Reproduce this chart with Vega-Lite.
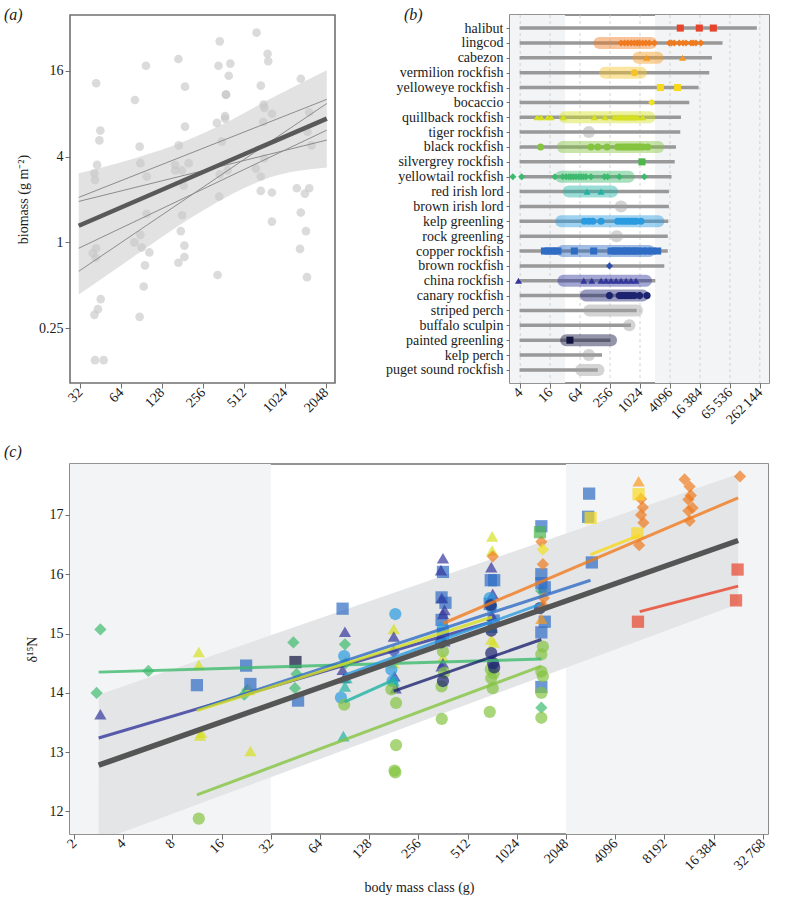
{
  "$schema": "https://vega.github.io/schema/vega-lite/v6.json",
  "background": "white",
  "padding": {"left": 3, "top": 5, "right": 10, "bottom": 2},
  "spacing": 15,
  "config": {
    "font": "Liberation Serif",
    "view": {"stroke": "#707070", "strokeWidth": 1.6},
    "axis": {"domain": false, "grid": false, "tickColor": "#707070", "tickSize": 5, "tickWidth": 1, "labelFont": "Liberation Serif", "labelFontSize": 14, "labelColor": "#1a1a1a", "titleFont": "Liberation Serif", "titleFontSize": 14, "titleFontWeight": "normal", "titleColor": "#1a1a1a"},
    "title": {"font": "Liberation Serif", "fontSize": 16, "fontStyle": "italic", "fontWeight": "normal", "anchor": "start", "frame": "group", "baseline": "alphabetic", "offset": 0, "color": "#1a1a1a"},
    "legend": {"disable": true}
  },
  "datasets": {
    "a_band": [
      {"mass": 31.3, "lo": 0.43, "hi": 3.06},
      {"mass": 80, "lo": 0.8, "hi": 3.89},
      {"mass": 198, "lo": 1.44, "hi": 5.24},
      {"mass": 388, "lo": 2.1, "hi": 7.03},
      {"mass": 766, "lo": 2.82, "hi": 9.98},
      {"mass": 2080, "lo": 3.35, "hi": 16.2}
    ],
    "a_pts": [
      {"mass": 42, "biomass": 13.1}, {"mass": 42.7, "biomass": 3.5}, {"mass": 40.8, "biomass": 3.06}, {"mass": 41.2, "biomass": 2.75}, {"mass": 45.1, "biomass": 6.1}, {"mass": 44.4, "biomass": 5.2}, {"mass": 42, "biomass": 0.91}, {"mass": 41.8, "biomass": 0.78}, {"mass": 39.7, "biomass": 0.84}, {"mass": 45.4, "biomass": 0.4}, {"mass": 43.3, "biomass": 0.34}, {"mass": 40.8, "biomass": 0.31}, {"mass": 41.2, "biomass": 0.149}, {"mass": 47.7, "biomass": 0.149},
      {"mass": 81, "biomass": 10.0}, {"mass": 97.6, "biomass": 17.4}, {"mass": 87.7, "biomass": 4.7}, {"mass": 88.8, "biomass": 3.6}, {"mass": 98.8, "biomass": 2.9}, {"mass": 98.8, "biomass": 1.59}, {"mass": 88.8, "biomass": 1.13}, {"mass": 80.2, "biomass": 1.0}, {"mass": 90.8, "biomass": 0.92}, {"mass": 103.4, "biomass": 0.85}, {"mass": 96, "biomass": 0.69}, {"mass": 93.9, "biomass": 0.49}, {"mass": 87.7, "biomass": 0.3},
      {"mass": 169, "biomass": 19.4}, {"mass": 189, "biomass": 12.4}, {"mass": 189, "biomass": 6.5}, {"mass": 170, "biomass": 4.8}, {"mass": 160, "biomass": 3.5}, {"mass": 179, "biomass": 3.2}, {"mass": 160, "biomass": 3.2}, {"mass": 201, "biomass": 3.6}, {"mass": 185, "biomass": 2.5}, {"mass": 180, "biomass": 1.55}, {"mass": 176, "biomass": 1.2}, {"mass": 187, "biomass": 0.95}, {"mass": 187, "biomass": 0.79}, {"mass": 169, "biomass": 0.72},
      {"mass": 340, "biomass": 25.8}, {"mass": 333, "biomass": 17.4}, {"mass": 407, "biomass": 18.0}, {"mass": 396, "biomass": 14.8}, {"mass": 378, "biomass": 10.9}, {"mass": 378, "biomass": 10.9}, {"mass": 372, "biomass": 7.4}, {"mass": 372, "biomass": 7.7}, {"mass": 324, "biomass": 6.9}, {"mass": 352, "biomass": 5.1}, {"mass": 388, "biomass": 3.2}, {"mass": 340, "biomass": 3.0}, {"mass": 337, "biomass": 2.1}, {"mass": 328, "biomass": 0.59},
      {"mass": 634, "biomass": 29.7}, {"mass": 764, "biomass": 21.1}, {"mass": 772, "biomass": 18.7}, {"mass": 681, "biomass": 12.6}, {"mass": 714, "biomass": 9.3}, {"mass": 722, "biomass": 8.8}, {"mass": 822, "biomass": 8.0}, {"mass": 710, "biomass": 7.0}, {"mass": 722, "biomass": 3.9}, {"mass": 626, "biomass": 3.3}, {"mass": 681, "biomass": 2.9}, {"mass": 681, "biomass": 2.3}, {"mass": 822, "biomass": 2.24}, {"mass": 822, "biomass": 1.4},
      {"mass": 1340, "biomass": 14.1}, {"mass": 1545, "biomass": 8.2}, {"mass": 1500, "biomass": 6.0}, {"mass": 1608, "biomass": 4.8}, {"mass": 1252, "biomass": 2.4}, {"mass": 1436, "biomass": 2.2}, {"mass": 1545, "biomass": 2.4}, {"mass": 1340, "biomass": 1.62}, {"mass": 1462, "biomass": 1.2}, {"mass": 1323, "biomass": 0.9}, {"mass": 1488, "biomass": 0.57}
    ],
    "a_lines": [
      {"site": "s1", "mass": 31.3, "biomass": 2.07}, {"site": "s1", "mass": 2080, "biomass": 10.1},
      {"site": "s2", "mass": 31.3, "biomass": 1.94}, {"site": "s2", "mass": 2080, "biomass": 5.23},
      {"site": "s3", "mass": 31.3, "biomass": 0.91}, {"site": "s3", "mass": 2080, "biomass": 6.14},
      {"site": "s4", "mass": 31.3, "biomass": 0.627}, {"site": "s4", "mass": 2080, "biomass": 9.45}
    ],
    "a_fit": [{"mass": 31.3, "biomass": 1.31}, {"mass": 2080, "biomass": 7.4}],
    "bg_b": [{"lo": 1, "hi": 32}, {"lo": 2048, "hi": 1000000}],
    "bg_c": [{"lo": 1, "hi": 32}, {"lo": 2048, "hi": 100000}],
    "b_grid": [{"v": 4}, {"v": 16}, {"v": 64}, {"v": 256}, {"v": 1024}, {"v": 4096}, {"v": 16384}, {"v": 65536}, {"v": 262144}],
    "b_range": [
      {"species": "halibut", "start": 3.9, "end": 228000},
      {"species": "lingcod", "start": 3.9, "end": 46600},
      {"species": "cabezon", "start": 3.9, "end": 28500},
      {"species": "vermilion rockfish", "start": 3.9, "end": 25200},
      {"species": "yelloweye rockfish", "start": 3.9, "end": 15400},
      {"species": "bocaccio", "start": 3.9, "end": 10000},
      {"species": "quillback rockfish", "start": 3.9, "end": 6800},
      {"species": "tiger rockfish", "start": 3.9, "end": 6600},
      {"species": "black rockfish", "start": 3.9, "end": 5400},
      {"species": "silvergrey rockfish", "start": 3.9, "end": 5100},
      {"species": "yellowtail rockfish", "start": 3.9, "end": 4400},
      {"species": "red irish lord", "start": 3.9, "end": 3900},
      {"species": "brown irish lord", "start": 3.9, "end": 3900},
      {"species": "kelp greenling", "start": 3.9, "end": 3800},
      {"species": "rock greenling", "start": 3.9, "end": 3700},
      {"species": "copper rockfish", "start": 3.9, "end": 3700},
      {"species": "brown rockfish", "start": 3.9, "end": 3150},
      {"species": "china rockfish", "start": 3.9, "end": 2080},
      {"species": "canary rockfish", "start": 3.9, "end": 1570},
      {"species": "striped perch", "start": 3.9, "end": 880},
      {"species": "buffalo sculpin", "start": 3.9, "end": 675},
      {"species": "painted greenling", "start": 3.9, "end": 260},
      {"species": "kelp perch", "start": 3.9, "end": 177},
      {"species": "puget sound rockfish", "start": 3.9, "end": 145}
    ],
    "b_band": [
      {"species": "lingcod", "lo": 156, "hi": 1700},
      {"species": "cabezon", "lo": 950, "hi": 2320},
      {"species": "vermilion rockfish", "lo": 203, "hi": 1070},
      {"species": "quillback rockfish", "lo": 32, "hi": 1577},
      {"species": "tiger rockfish", "lo": 95, "hi": 97},
      {"species": "black rockfish", "lo": 28.7, "hi": 2390},
      {"species": "yellowtail rockfish", "lo": 26.6, "hi": 605},
      {"species": "red irish lord", "lo": 37.9, "hi": 280},
      {"species": "brown irish lord", "lo": 420, "hi": 430},
      {"species": "kelp greenling", "lo": 26.6, "hi": 2390},
      {"species": "rock greenling", "lo": 344, "hi": 352},
      {"species": "copper rockfish", "lo": 28.7, "hi": 1577},
      {"species": "china rockfish", "lo": 29.6, "hi": 1350},
      {"species": "canary rockfish", "lo": 84, "hi": 1160},
      {"species": "striped perch", "lo": 98, "hi": 890},
      {"species": "buffalo sculpin", "lo": 620, "hi": 630},
      {"species": "painted greenling", "lo": 33.6, "hi": 268},
      {"species": "kelp perch", "lo": 95, "hi": 97},
      {"species": "puget sound rockfish", "lo": 67, "hi": 150}
    ],
    "b_pts": [
      {"species": "halibut", "mass": 6600}, {"species": "halibut", "mass": 15900}, {"species": "halibut", "mass": 30400},
      {"species": "lingcod", "mass": 425}, {"species": "lingcod", "mass": 500}, {"species": "lingcod", "mass": 580}, {"species": "lingcod", "mass": 680}, {"species": "lingcod", "mass": 790}, {"species": "lingcod", "mass": 900}, {"species": "lingcod", "mass": 1000}, {"species": "lingcod", "mass": 1160}, {"species": "lingcod", "mass": 1340}, {"species": "lingcod", "mass": 1570}, {"species": "lingcod", "mass": 1990}, {"species": "lingcod", "mass": 3980}, {"species": "lingcod", "mass": 4400}, {"species": "lingcod", "mass": 5000}, {"species": "lingcod", "mass": 6300}, {"species": "lingcod", "mass": 7500}, {"species": "lingcod", "mass": 8600}, {"species": "lingcod", "mass": 10800}, {"species": "lingcod", "mass": 12000}, {"species": "lingcod", "mass": 13600}, {"species": "lingcod", "mass": 17200},
      {"species": "cabezon", "mass": 1390}, {"species": "cabezon", "mass": 7350},
      {"species": "vermilion rockfish", "mass": 790},
      {"species": "yelloweye rockfish", "mass": 2630}, {"species": "yelloweye rockfish", "mass": 5830},
      {"species": "bocaccio", "mass": 1760},
      {"species": "quillback rockfish", "mass": 8.8}, {"species": "quillback rockfish", "mass": 10.6}, {"species": "quillback rockfish", "mass": 14.3}, {"species": "quillback rockfish", "mass": 16.8}, {"species": "quillback rockfish", "mass": 29.6}, {"species": "quillback rockfish", "mass": 124}, {"species": "quillback rockfish", "mass": 203}, {"species": "quillback rockfish", "mass": 313}, {"species": "quillback rockfish", "mass": 365}, {"species": "quillback rockfish", "mass": 410}, {"species": "quillback rockfish", "mass": 459}, {"species": "quillback rockfish", "mass": 520}, {"species": "quillback rockfish", "mass": 580}, {"species": "quillback rockfish", "mass": 650}, {"species": "quillback rockfish", "mass": 729}, {"species": "quillback rockfish", "mass": 820}, {"species": "quillback rockfish", "mass": 917}, {"species": "quillback rockfish", "mass": 1160},
      {"species": "black rockfish", "mass": 10.3}, {"species": "black rockfish", "mass": 106}, {"species": "black rockfish", "mass": 145}, {"species": "black rockfish", "mass": 223}, {"species": "black rockfish", "mass": 365}, {"species": "black rockfish", "mass": 410}, {"species": "black rockfish", "mass": 459}, {"species": "black rockfish", "mass": 520}, {"species": "black rockfish", "mass": 580}, {"species": "black rockfish", "mass": 650}, {"species": "black rockfish", "mass": 729}, {"species": "black rockfish", "mass": 820}, {"species": "black rockfish", "mass": 917}, {"species": "black rockfish", "mass": 1030}, {"species": "black rockfish", "mass": 1160}, {"species": "black rockfish", "mass": 1460},
      {"species": "silvergrey rockfish", "mass": 1120},
      {"species": "yellowtail rockfish", "mass": 2.85}, {"species": "yellowtail rockfish", "mass": 4.3}, {"species": "yellowtail rockfish", "mass": 20}, {"species": "yellowtail rockfish", "mass": 28.7}, {"species": "yellowtail rockfish", "mass": 33.6}, {"species": "yellowtail rockfish", "mass": 38}, {"species": "yellowtail rockfish", "mass": 42}, {"species": "yellowtail rockfish", "mass": 47}, {"species": "yellowtail rockfish", "mass": 53}, {"species": "yellowtail rockfish", "mass": 60}, {"species": "yellowtail rockfish", "mass": 67}, {"species": "yellowtail rockfish", "mass": 75}, {"species": "yellowtail rockfish", "mass": 84}, {"species": "yellowtail rockfish", "mass": 106}, {"species": "yellowtail rockfish", "mass": 197}, {"species": "yellowtail rockfish", "mass": 229}, {"species": "yellowtail rockfish", "mass": 394}, {"species": "yellowtail rockfish", "mass": 1250},
      {"species": "red irish lord", "mass": 88}, {"species": "red irish lord", "mass": 169},
      {"species": "kelp greenling", "mass": 78}, {"species": "kelp greenling", "mass": 96}, {"species": "kelp greenling", "mass": 115}, {"species": "kelp greenling", "mass": 169}, {"species": "kelp greenling", "mass": 365}, {"species": "kelp greenling", "mass": 430}, {"species": "kelp greenling", "mass": 498}, {"species": "kelp greenling", "mass": 580}, {"species": "kelp greenling", "mass": 675}, {"species": "kelp greenling", "mass": 760}, {"species": "kelp greenling", "mass": 850}, {"species": "kelp greenling", "mass": 1070},
      {"species": "copper rockfish", "mass": 12.3}, {"species": "copper rockfish", "mass": 14.5}, {"species": "copper rockfish", "mass": 17}, {"species": "copper rockfish", "mass": 20}, {"species": "copper rockfish", "mass": 23}, {"species": "copper rockfish", "mass": 49}, {"species": "copper rockfish", "mass": 120}, {"species": "copper rockfish", "mass": 268}, {"species": "copper rockfish", "mass": 320}, {"species": "copper rockfish", "mass": 365}, {"species": "copper rockfish", "mass": 440}, {"species": "copper rockfish", "mass": 520}, {"species": "copper rockfish", "mass": 580}, {"species": "copper rockfish", "mass": 700}, {"species": "copper rockfish", "mass": 820}, {"species": "copper rockfish", "mass": 917}, {"species": "copper rockfish", "mass": 1160}, {"species": "copper rockfish", "mass": 1460}, {"species": "copper rockfish", "mass": 1800}, {"species": "copper rockfish", "mass": 2320},
      {"species": "brown rockfish", "mass": 249},
      {"species": "china rockfish", "mass": 3.7}, {"species": "china rockfish", "mass": 76}, {"species": "china rockfish", "mass": 110}, {"species": "china rockfish", "mass": 169}, {"species": "china rockfish", "mass": 213}, {"species": "china rockfish", "mass": 268}, {"species": "china rockfish", "mass": 338}, {"species": "china rockfish", "mass": 425}, {"species": "china rockfish", "mass": 537}, {"species": "china rockfish", "mass": 675}, {"species": "china rockfish", "mass": 850},
      {"species": "canary rockfish", "mass": 249}, {"species": "canary rockfish", "mass": 394}, {"species": "canary rockfish", "mass": 440}, {"species": "canary rockfish", "mass": 498}, {"species": "canary rockfish", "mass": 560}, {"species": "canary rockfish", "mass": 625}, {"species": "canary rockfish", "mass": 700}, {"species": "canary rockfish", "mass": 790}, {"species": "canary rockfish", "mass": 1000}, {"species": "canary rockfish", "mass": 1420},
      {"species": "painted greenling", "mass": 40}
    ],
    "c_band": [{"mass": 2.83, "lo": 11.5, "hi": 13.97}, {"mass": 23170, "lo": 15.5, "hi": 17.69}],
    "c_fit": [{"mass": 2.83, "d15n": 12.78}, {"mass": 23170, "d15n": 16.57}],
    "c_lines": [
      {"species": "china rockfish", "mass": 2.83, "d15n": 13.24}, {"species": "china rockfish", "mass": 724, "d15n": 15.2},
      {"species": "yellowtail rockfish", "mass": 2.83, "d15n": 14.35}, {"species": "yellowtail rockfish", "mass": 1448, "d15n": 14.57},
      {"species": "copper rockfish", "mass": 11.3, "d15n": 13.72}, {"species": "copper rockfish", "mass": 2896, "d15n": 15.9},
      {"species": "quillback rockfish", "mass": 11.3, "d15n": 13.7}, {"species": "quillback rockfish", "mass": 724, "d15n": 15.28},
      {"species": "black rockfish", "mass": 11.3, "d15n": 12.28}, {"species": "black rockfish", "mass": 1448, "d15n": 14.45},
      {"species": "kelp greenling", "mass": 90.5, "d15n": 14.3}, {"species": "kelp greenling", "mass": 1448, "d15n": 15.5},
      {"species": "red irish lord", "mass": 90.5, "d15n": 13.85}, {"species": "red irish lord", "mass": 181, "d15n": 14.22},
      {"species": "canary rockfish", "mass": 181, "d15n": 14.03}, {"species": "canary rockfish", "mass": 1448, "d15n": 14.9},
      {"species": "lingcod", "mass": 362, "d15n": 15.17}, {"species": "lingcod", "mass": 23170, "d15n": 17.29},
      {"species": "yelloweye rockfish", "mass": 2896, "d15n": 16.33}, {"species": "yelloweye rockfish", "mass": 5793, "d15n": 16.66},
      {"species": "halibut", "mass": 5793, "d15n": 15.37}, {"species": "halibut", "mass": 23170, "d15n": 15.8}
    ],
    "c_pts": [
      {"species": "yellowtail rockfish", "mass": 2.9, "d15n": 15.07}, {"species": "yellowtail rockfish", "mass": 2.75, "d15n": 14.0}, {"species": "yellowtail rockfish", "mass": 5.7, "d15n": 14.37}, {"species": "yellowtail rockfish", "mass": 22, "d15n": 13.97}, {"species": "yellowtail rockfish", "mass": 23, "d15n": 14.05}, {"species": "yellowtail rockfish", "mass": 44, "d15n": 14.85}, {"species": "yellowtail rockfish", "mass": 46, "d15n": 14.32}, {"species": "yellowtail rockfish", "mass": 45, "d15n": 14.08}, {"species": "yellowtail rockfish", "mass": 91, "d15n": 14.82}, {"species": "yellowtail rockfish", "mass": 92, "d15n": 14.5}, {"species": "yellowtail rockfish", "mass": 1448, "d15n": 15.72}, {"species": "yellowtail rockfish", "mass": 1448, "d15n": 13.75},
      {"species": "quillback rockfish", "mass": 11.6, "d15n": 14.69}, {"species": "quillback rockfish", "mass": 11.6, "d15n": 14.47}, {"species": "quillback rockfish", "mass": 12, "d15n": 13.33}, {"species": "quillback rockfish", "mass": 11.8, "d15n": 13.28}, {"species": "quillback rockfish", "mass": 24, "d15n": 13.02}, {"species": "quillback rockfish", "mass": 23.5, "d15n": 14.05}, {"species": "quillback rockfish", "mass": 181, "d15n": 15.08}, {"species": "quillback rockfish", "mass": 181, "d15n": 14.5}, {"species": "quillback rockfish", "mass": 176, "d15n": 14.55}, {"species": "quillback rockfish", "mass": 724, "d15n": 16.64}, {"species": "quillback rockfish", "mass": 724, "d15n": 16.4}, {"species": "quillback rockfish", "mass": 715, "d15n": 14.9}, {"species": "quillback rockfish", "mass": 740, "d15n": 14.85}, {"species": "quillback rockfish", "mass": 362, "d15n": 14.6},
      {"species": "copper rockfish", "mass": 11.3, "d15n": 14.13}, {"species": "copper rockfish", "mass": 22.6, "d15n": 14.46}, {"species": "copper rockfish", "mass": 24, "d15n": 14.15}, {"species": "copper rockfish", "mass": 47, "d15n": 13.87}, {"species": "copper rockfish", "mass": 88, "d15n": 15.42}, {"species": "copper rockfish", "mass": 362, "d15n": 16.04}, {"species": "copper rockfish", "mass": 355, "d15n": 15.61}, {"species": "copper rockfish", "mass": 375, "d15n": 15.52}, {"species": "copper rockfish", "mass": 355, "d15n": 15.23}, {"species": "copper rockfish", "mass": 362, "d15n": 15.0}, {"species": "copper rockfish", "mass": 710, "d15n": 15.9}, {"species": "copper rockfish", "mass": 745, "d15n": 15.9}, {"species": "copper rockfish", "mass": 740, "d15n": 15.22}, {"species": "copper rockfish", "mass": 700, "d15n": 15.5}, {"species": "copper rockfish", "mass": 1448, "d15n": 16.81}, {"species": "copper rockfish", "mass": 1448, "d15n": 16.0}, {"species": "copper rockfish", "mass": 1448, "d15n": 15.85}, {"species": "copper rockfish", "mass": 1520, "d15n": 15.78}, {"species": "copper rockfish", "mass": 1520, "d15n": 15.2}, {"species": "copper rockfish", "mass": 1448, "d15n": 15.02}, {"species": "copper rockfish", "mass": 1448, "d15n": 14.1}, {"species": "copper rockfish", "mass": 2840, "d15n": 17.36}, {"species": "copper rockfish", "mass": 2800, "d15n": 16.97}, {"species": "copper rockfish", "mass": 2950, "d15n": 16.2},
      {"species": "painted greenling", "mass": 45.3, "d15n": 14.52},
      {"species": "china rockfish", "mass": 2.9, "d15n": 13.64}, {"species": "china rockfish", "mass": 91, "d15n": 15.03}, {"species": "china rockfish", "mass": 88, "d15n": 14.39}, {"species": "china rockfish", "mass": 90, "d15n": 14.25}, {"species": "china rockfish", "mass": 181, "d15n": 14.95}, {"species": "china rockfish", "mass": 186, "d15n": 14.08}, {"species": "china rockfish", "mass": 183, "d15n": 14.28}, {"species": "china rockfish", "mass": 362, "d15n": 16.27}, {"species": "china rockfish", "mass": 352, "d15n": 16.07}, {"species": "china rockfish", "mass": 356, "d15n": 15.6}, {"species": "china rockfish", "mass": 370, "d15n": 15.4}, {"species": "china rockfish", "mass": 362, "d15n": 15.33}, {"species": "china rockfish", "mass": 362, "d15n": 14.5}, {"species": "china rockfish", "mass": 355, "d15n": 14.45}, {"species": "china rockfish", "mass": 370, "d15n": 14.87}, {"species": "china rockfish", "mass": 715, "d15n": 16.12}, {"species": "china rockfish", "mass": 730, "d15n": 15.67}, {"species": "china rockfish", "mass": 724, "d15n": 15.3},
      {"species": "kelp greenling", "mass": 90, "d15n": 14.62}, {"species": "kelp greenling", "mass": 86, "d15n": 13.92}, {"species": "kelp greenling", "mass": 185, "d15n": 15.33}, {"species": "kelp greenling", "mass": 175, "d15n": 14.39}, {"species": "kelp greenling", "mass": 178, "d15n": 14.2}, {"species": "kelp greenling", "mass": 715, "d15n": 15.45}, {"species": "kelp greenling", "mass": 700, "d15n": 15.6}, {"species": "kelp greenling", "mass": 362, "d15n": 15.1},
      {"species": "red irish lord", "mass": 91, "d15n": 14.11}, {"species": "red irish lord", "mass": 89, "d15n": 13.27}, {"species": "red irish lord", "mass": 93, "d15n": 14.25}, {"species": "red irish lord", "mass": 181, "d15n": 14.2}, {"species": "red irish lord", "mass": 724, "d15n": 15.1},
      {"species": "black rockfish", "mass": 11.6, "d15n": 11.88}, {"species": "black rockfish", "mass": 90, "d15n": 13.8}, {"species": "black rockfish", "mass": 175, "d15n": 14.06}, {"species": "black rockfish", "mass": 187, "d15n": 13.83}, {"species": "black rockfish", "mass": 187, "d15n": 13.12}, {"species": "black rockfish", "mass": 183, "d15n": 12.69}, {"species": "black rockfish", "mass": 185, "d15n": 12.66}, {"species": "black rockfish", "mass": 362, "d15n": 14.7}, {"species": "black rockfish", "mass": 368, "d15n": 14.34}, {"species": "black rockfish", "mass": 355, "d15n": 14.11}, {"species": "black rockfish", "mass": 356, "d15n": 13.56}, {"species": "black rockfish", "mass": 710, "d15n": 14.4}, {"species": "black rockfish", "mass": 740, "d15n": 14.33}, {"species": "black rockfish", "mass": 715, "d15n": 14.25}, {"species": "black rockfish", "mass": 730, "d15n": 14.08}, {"species": "black rockfish", "mass": 700, "d15n": 13.68}, {"species": "black rockfish", "mass": 1480, "d15n": 14.78}, {"species": "black rockfish", "mass": 1448, "d15n": 14.65}, {"species": "black rockfish", "mass": 1448, "d15n": 14.36}, {"species": "black rockfish", "mass": 1480, "d15n": 14.28}, {"species": "black rockfish", "mass": 1448, "d15n": 13.58}, {"species": "black rockfish", "mass": 1448, "d15n": 14.0},
      {"species": "canary rockfish", "mass": 362, "d15n": 14.2}, {"species": "canary rockfish", "mass": 352, "d15n": 14.85}, {"species": "canary rockfish", "mass": 715, "d15n": 14.67}, {"species": "canary rockfish", "mass": 735, "d15n": 14.5}, {"species": "canary rockfish", "mass": 715, "d15n": 15.05}, {"species": "canary rockfish", "mass": 745, "d15n": 14.43}, {"species": "canary rockfish", "mass": 710, "d15n": 15.48}, {"species": "canary rockfish", "mass": 1420, "d15n": 15.43},
      {"species": "lingcod", "mass": 730, "d15n": 16.3}, {"species": "lingcod", "mass": 1448, "d15n": 16.55}, {"species": "lingcod", "mass": 1480, "d15n": 16.17}, {"species": "lingcod", "mass": 1480, "d15n": 15.47}, {"species": "lingcod", "mass": 1500, "d15n": 15.6}, {"species": "lingcod", "mass": 5900, "d15n": 17.27}, {"species": "lingcod", "mass": 6050, "d15n": 17.13}, {"species": "lingcod", "mass": 5900, "d15n": 17.0}, {"species": "lingcod", "mass": 6100, "d15n": 16.87}, {"species": "lingcod", "mass": 5750, "d15n": 16.49}, {"species": "lingcod", "mass": 10900, "d15n": 17.6}, {"species": "lingcod", "mass": 11700, "d15n": 17.48}, {"species": "lingcod", "mass": 11900, "d15n": 17.33}, {"species": "lingcod", "mass": 11500, "d15n": 17.26}, {"species": "lingcod", "mass": 12200, "d15n": 17.12}, {"species": "lingcod", "mass": 11500, "d15n": 17.07}, {"species": "lingcod", "mass": 11700, "d15n": 16.9}, {"species": "lingcod", "mass": 23800, "d15n": 17.65},
      {"species": "cabezon", "mass": 1448, "d15n": 15.25}, {"species": "cabezon", "mass": 5700, "d15n": 17.57},
      {"species": "yelloweye rockfish", "mass": 2900, "d15n": 16.95}, {"species": "yelloweye rockfish", "mass": 5700, "d15n": 17.35}, {"species": "yelloweye rockfish", "mass": 5600, "d15n": 16.69},
      {"species": "silvergrey rockfish", "mass": 1420, "d15n": 16.71},
      {"species": "halibut", "mass": 5650, "d15n": 15.2}, {"species": "halibut", "mass": 23000, "d15n": 16.08}, {"species": "halibut", "mass": 22500, "d15n": 15.56},
      {"species": "bocaccio", "mass": 1480, "d15n": 16.42},
      {"species": "brown rockfish", "mass": 181, "d15n": 14.69}
    ]
  },
  "vconcat": [
    {
      "hconcat": [
        {
          "title": {"text": "(a)", "dx": -66, "dy": 12},
          "width": 265,
          "height": 368,
          "layer": [
            {
              "data": {"name": "a_band"},
              "mark": {"type": "area", "color": "#e2e2e2", "interpolate": "monotone"},
              "encoding": {
                "x": {"field": "mass", "type": "quantitative", "scale": {"type": "log", "base": 2, "domain": [27, 2390], "nice": false}, "axis": {"values": [32, 64, 128, 256, 512, 1024, 2048], "labelExpr": "'' + datum.value", "labelAngle": -45, "labelAlign": "right", "labelBaseline": "middle", "title": null, "labelFlush": false, "labelOverlap": false}},
                "y": {"field": "lo", "type": "quantitative", "scale": {"type": "log", "base": 2, "domain": [0.103, 39.5], "nice": false}, "axis": {"values": [0.25, 1, 4, 16], "labelExpr": "'' + datum.value", "title": "biomass (g m⁻²)", "titlePadding": 8, "labelFlush": false, "labelOverlap": false}},
                "y2": {"field": "hi"}
              }
            },
            {
              "data": {"name": "a_pts"},
              "mark": {"type": "circle", "size": 75, "color": "#c8c8c8", "opacity": 0.65},
              "encoding": {
                "x": {"field": "mass", "type": "quantitative"},
                "y": {"field": "biomass", "type": "quantitative"}
              }
            },
            {
              "data": {"name": "a_lines"},
              "mark": {"type": "line", "color": "#8c8c8c", "strokeWidth": 1},
              "encoding": {
                "x": {"field": "mass", "type": "quantitative"},
                "y": {"field": "biomass", "type": "quantitative"},
                "detail": {"field": "site", "type": "nominal"}
              }
            },
            {
              "data": {"name": "a_fit"},
              "mark": {"type": "line", "color": "#595959", "strokeWidth": 4.5},
              "encoding": {
                "x": {"field": "mass", "type": "quantitative"},
                "y": {"field": "biomass", "type": "quantitative"}
              }
            }
          ]
        },
        {
          "title": {"text": "(b)", "dx": -106, "dy": 12},
          "width": 259,
          "height": 368,
          "layer": [
            {
              "data": {"name": "bg_b"},
              "mark": {"type": "rect", "color": "#f3f4f6", "clip": true},
              "encoding": {
                "x": {"field": "lo", "type": "quantitative", "scale": {"type": "log", "base": 2, "domain": [2.5, 400000], "nice": false}, "axis": {"values": [4, 16, 64, 256, 1024, 4096, 16384, 65536, 262144], "labelExpr": "datum.value >= 10000 ? replace(format(datum.value, ','), ',', '\u2009') : '' + datum.value", "labelAngle": -45, "labelAlign": "right", "labelBaseline": "middle", "title": null, "labelFlush": false, "labelOverlap": false}},
                "x2": {"field": "hi"}
              }
            },
            {
              "data": {"name": "b_grid"},
              "mark": {"type": "rule", "color": "#c9c9c9", "strokeWidth": 0.8, "strokeDash": [3, 3]},
              "encoding": {"x": {"field": "v", "type": "quantitative"}}
            },
            {
              "data": {"name": "b_range"},
              "mark": {"type": "rule", "color": "#999999", "strokeWidth": 3.5},
              "encoding": {
                "y": {"field": "species", "type": "nominal", "scale": {"type": "point", "padding": 0.88, "domain": ["halibut", "lingcod", "cabezon", "vermilion rockfish", "yelloweye rockfish", "bocaccio", "quillback rockfish", "tiger rockfish", "black rockfish", "silvergrey rockfish", "yellowtail rockfish", "red irish lord", "brown irish lord", "kelp greenling", "rock greenling", "copper rockfish", "brown rockfish", "china rockfish", "canary rockfish", "striped perch", "buffalo sculpin", "painted greenling", "kelp perch", "puget sound rockfish"]}, "axis": {"title": null, "tickSize": 4, "labelPadding": 3}},
                "x": {"field": "start", "type": "quantitative"},
                "x2": {"field": "end"}
              }
            },
            {
              "data": {"name": "b_band"},
              "mark": {"type": "rule", "strokeWidth": 12, "strokeCap": "round", "opacity": 0.45},
              "encoding": {
                "y": {"field": "species", "type": "nominal"},
                "x": {"field": "lo", "type": "quantitative"},
                "x2": {"field": "hi"},
                "color": {"field": "species", "type": "nominal", "scale": {"domain": ["halibut", "lingcod", "cabezon", "vermilion rockfish", "yelloweye rockfish", "bocaccio", "quillback rockfish", "tiger rockfish", "black rockfish", "silvergrey rockfish", "yellowtail rockfish", "red irish lord", "brown irish lord", "kelp greenling", "rock greenling", "copper rockfish", "brown rockfish", "china rockfish", "canary rockfish", "striped perch", "buffalo sculpin", "painted greenling", "kelp perch", "puget sound rockfish"], "range": ["#e8432b", "#f07a1e", "#f5981c", "#f7c32a", "#f8d81c", "#f0e21c", "#d5df22", "#a0a0a0", "#85c441", "#4cb74a", "#3dba6e", "#1fb3a3", "#a0a0a0", "#2a9be0", "#a0a0a0", "#2f6cc4", "#2d4fb0", "#33379c", "#1c2470", "#a0a0a0", "#a0a0a0", "#121440", "#a0a0a0", "#a0a0a0"]}}
              }
            },
            {
              "data": {"name": "b_pts"},
              "mark": {"type": "point", "filled": true, "opacity": 1, "size": 50},
              "encoding": {
                "y": {"field": "species", "type": "nominal"},
                "x": {"field": "mass", "type": "quantitative"},
                "color": {"field": "species", "type": "nominal"},
                "shape": {"field": "species", "type": "nominal", "scale": {"domain": ["halibut", "lingcod", "cabezon", "vermilion rockfish", "yelloweye rockfish", "bocaccio", "quillback rockfish", "black rockfish", "silvergrey rockfish", "yellowtail rockfish", "red irish lord", "kelp greenling", "copper rockfish", "brown rockfish", "china rockfish", "canary rockfish", "painted greenling"], "range": ["square", "diamond", "triangle-up", "circle", "square", "diamond", "triangle-up", "circle", "square", "diamond", "triangle-up", "circle", "square", "diamond", "triangle-up", "circle", "square"]}}
              }
            }
          ]
        }
      ],
      "spacing": 175,
      "bounds": "flush"
    },
    {
      "title": {"text": "(c)", "dx": -66, "dy": 0},
      "width": 698,
      "height": 370,
      "layer": [
        {
          "data": {"name": "bg_c"},
          "mark": {"type": "rect", "color": "#f3f4f6", "clip": true},
          "encoding": {
            "x": {"field": "lo", "type": "quantitative", "scale": {"type": "log", "base": 2, "domain": [1.89, 35300], "nice": false}, "axis": {"values": [2, 4, 8, 16, 32, 64, 128, 256, 512, 1024, 2048, 4096, 8192, 16384, 32768], "labelExpr": "datum.value >= 10000 ? replace(format(datum.value, ','), ',', '\u2009') : '' + datum.value", "labelAngle": -45, "labelAlign": "right", "labelBaseline": "middle", "title": "body mass class (g)", "titlePadding": 8, "labelFlush": false, "labelOverlap": false}},
            "x2": {"field": "hi"}
          }
        },
        {
          "data": {"name": "c_band"},
          "mark": {"type": "area", "color": "#e4e5e6", "clip": true},
          "encoding": {
            "x": {"field": "mass", "type": "quantitative"},
            "y": {"field": "lo", "type": "quantitative", "scale": {"domain": [11.62, 17.86], "nice": false, "zero": false}, "axis": {"values": [12, 13, 14, 15, 16, 17], "labelExpr": "'' + datum.value", "title": "δ¹⁵N", "titlePadding": 10, "labelFlush": false}},
            "y2": {"field": "hi"}
          }
        },
        {
          "data": {"name": "c_pts"},
          "mark": {"type": "point", "filled": true, "opacity": 0.7, "size": 150},
          "encoding": {
            "x": {"field": "mass", "type": "quantitative"},
            "y": {"field": "d15n", "type": "quantitative"},
            "color": {"field": "species", "type": "nominal", "scale": {"domain": ["halibut", "lingcod", "cabezon", "vermilion rockfish", "yelloweye rockfish", "bocaccio", "quillback rockfish", "tiger rockfish", "black rockfish", "silvergrey rockfish", "yellowtail rockfish", "red irish lord", "brown irish lord", "kelp greenling", "rock greenling", "copper rockfish", "brown rockfish", "china rockfish", "canary rockfish", "striped perch", "buffalo sculpin", "painted greenling", "kelp perch", "puget sound rockfish"], "range": ["#f05a3c", "#f07a1e", "#f5981c", "#f7c32a", "#f8d81c", "#f0e21c", "#d5df22", "#a0a0a0", "#85c441", "#4cb74a", "#3dba6e", "#1fb3a3", "#a0a0a0", "#2a9be0", "#a0a0a0", "#2f6cc4", "#2d4fb0", "#3a3aa0", "#1c2470", "#a0a0a0", "#a0a0a0", "#121440", "#a0a0a0", "#a0a0a0"]}},
            "shape": {"field": "species", "type": "nominal", "scale": {"domain": ["halibut", "lingcod", "cabezon", "vermilion rockfish", "yelloweye rockfish", "bocaccio", "quillback rockfish", "black rockfish", "silvergrey rockfish", "yellowtail rockfish", "red irish lord", "kelp greenling", "copper rockfish", "brown rockfish", "china rockfish", "canary rockfish", "painted greenling"], "range": ["square", "diamond", "triangle-up", "circle", "square", "diamond", "triangle-up", "circle", "square", "diamond", "triangle-up", "circle", "square", "diamond", "triangle-up", "circle", "square"]}}
          }
        },
        {
          "data": {"name": "c_lines"},
          "mark": {"type": "line", "strokeWidth": 3, "opacity": 0.8},
          "encoding": {
            "x": {"field": "mass", "type": "quantitative"},
            "y": {"field": "d15n", "type": "quantitative"},
            "color": {"field": "species", "type": "nominal"},
            "detail": {"field": "species", "type": "nominal"}
          }
        },
        {
          "data": {"name": "c_fit"},
          "mark": {"type": "line", "color": "#555555", "strokeWidth": 5.5},
          "encoding": {
            "x": {"field": "mass", "type": "quantitative"},
            "y": {"field": "d15n", "type": "quantitative"}
          }
        }
      ]
    }
  ]
}
